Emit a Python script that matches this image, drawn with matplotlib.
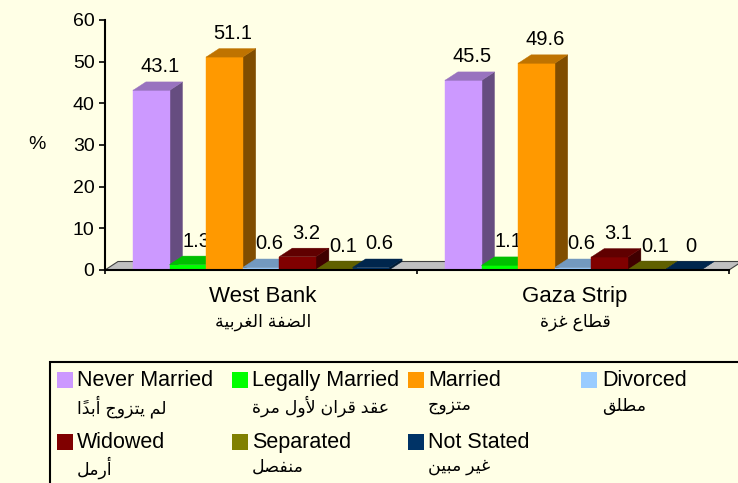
import matplotlib
matplotlib.use("Agg")
import matplotlib.pyplot as plt
from matplotlib.patches import Polygon, Rectangle

plt.rcParams['font.family'] = ['Liberation Sans', 'DejaVu Sans']

# data
regions_en = ["West Bank", "Gaza Strip"]
regions_ar = ["الضفة الغربية", "قطاع غزة"]
status_en = ["Never Married", "Legally Married", "Married", "Divorced",
             "Widowed", "Separated", "Not Stated"]
status_ar = ["لم يتزوج أبداً", "عقد قران لأول مرة", "متزوج", "مطلق",
             "أرمل", "منفصل", "غير مبين"]
west_bank = [43.1, 1.3, 51.1, 0.6, 3.2, 0.1, 0.6]
gaza = [45.5, 1.1, 49.6, 0.6, 3.1, 0.1, 0]
colors = ["#CC99FF", "#00FF00", "#FF9900", "#99CCFF", "#800000", "#808000", "#003366"]
yticks = [0, 10, 20, 30, 40, 50, 60]

# --- small arabic shaper: matplotlib does no contextual shaping ---
# iso, fin, ini, med
FORMS = {
    'ا': ('\uFE8D', '\uFE8E', None, None),
    'أ': ('\uFE83', '\uFE84', None, None),
    'ب': ('\uFE8F', '\uFE90', '\uFE91', '\uFE92'),
    'ة': ('\uFE93', '\uFE94', None, None),
    'ت': ('\uFE95', '\uFE96', '\uFE97', '\uFE98'),
    'ج': ('\uFE9D', '\uFE9E', '\uFE9F', '\uFEA0'),
    'د': ('\uFEA9', '\uFEAA', None, None),
    'ر': ('\uFEAD', '\uFEAE', None, None),
    'ز': ('\uFEAF', '\uFEB0', None, None),
    'ص': ('\uFEB9', '\uFEBA', '\uFEBB', '\uFEBC'),
    'ض': ('\uFEBD', '\uFEBE', '\uFEBF', '\uFEC0'),
    'ط': ('\uFEC1', '\uFEC2', '\uFEC3', '\uFEC4'),
    'ع': ('\uFEC9', '\uFECA', '\uFECB', '\uFECC'),
    'غ': ('\uFECD', '\uFECE', '\uFECF', '\uFED0'),
    'ف': ('\uFED1', '\uFED2', '\uFED3', '\uFED4'),
    'ق': ('\uFED5', '\uFED6', '\uFED7', '\uFED8'),
    'ل': ('\uFEDD', '\uFEDE', '\uFEDF', '\uFEE0'),
    'م': ('\uFEE1', '\uFEE2', '\uFEE3', '\uFEE4'),
    'ن': ('\uFEE5', '\uFEE6', '\uFEE7', '\uFEE8'),
    'و': ('\uFEED', '\uFEEE', None, None),
    'ي': ('\uFEF1', '\uFEF2', '\uFEF3', '\uFEF4'),
    'لأ': ('\uFEF7', '\uFEF8', None, None),
    'لا': ('\uFEFB', '\uFEFC', None, None),
}
MARKS = '\u064B\u064E\u064F\u0650\u0651\u0652'


def shape(s):
    units = []  # [letter key, marks]
    i = 0
    while i < len(s):
        c = s[i]
        if c in MARKS and units:
            units[-1][1] += c
        elif c == 'ل' and i + 1 < len(s) and s[i + 1] in 'اأ':
            units.append([c + s[i + 1], ''])
            i += 1
        else:
            units.append([c, ''])
        i += 1
    out = []
    for k, (u, m) in enumerate(units):
        if u not in FORMS:
            out.append(u + m)
            continue
        prev = units[k - 1][0] if k > 0 else None
        nxt = units[k + 1][0] if k + 1 < len(units) else None
        jp = prev in FORMS and FORMS[prev][2] is not None
        jn = FORMS[u][2] is not None and nxt in FORMS
        f = FORMS[u]
        g = f[3] if (jp and jn) else f[1] if jp else f[2] if jn else f[0]
        out.append(g + m)
    return ''.join(reversed(out))


bg = "#FFFFE6"
fig = plt.figure(figsize=(7.38, 4.83), dpi=100, facecolor=bg)
ax = fig.add_axes([105 / 738, 1 - 270 / 483, 624 / 738, 250 / 483])
ax.patch.set_visible(False)
ax.set_xlim(0, 2)
ax.set_ylim(0, 60)

px = 2 / 624.0     # one pixel in x data units
py = 60 / 250.0    # one pixel in y data units
dx, dy = 13 * px, 8.5 * py
w = 36.6 * px


def shade(c, f):
    r, g, b = matplotlib.colors.to_rgb(c)
    return (r * f, g * f, b * f)


# floor
ax.add_patch(Polygon([(0, 0), (2, 0), (2 + dx, dy), (dx, dy)], closed=True,
                     facecolor="#C0C0C0", edgecolor="#404040", lw=0.8,
                     clip_on=False, zorder=1))

z = 3
for g, vals in enumerate([west_bank, gaza]):
    for j, v in enumerate(vals):
        x0 = g + 0.5 - 3.5 * w + j * w
        c = colors[j]
        front = [(x0, 0), (x0 + w, 0), (x0 + w, v), (x0, v)]
        side = [(x0 + w, 0), (x0 + w + dx, dy), (x0 + w + dx, v + dy), (x0 + w, v)]
        top = [(x0, v), (x0 + w, v), (x0 + w + dx, v + dy), (x0 + dx, v + dy)]
        for pts, col in [(side, shade(c, 0.5)), (front, c), (top, shade(c, 0.75))]:
            ax.add_patch(Polygon(pts, closed=True, facecolor=col, edgecolor=col,
                                 lw=0.3, clip_on=False, zorder=z))
        z += 0.1
        ax.text(x0 + w / 2 + dx / 2 + 2 * px, v + dy + 9.5 * py, f"{v:g}",
                ha="center", va="baseline", fontsize=14.5, zorder=2, clip_on=False)

# axes
for s in ["top", "right"]:
    ax.spines[s].set_visible(False)
ax.spines["left"].set_linewidth(1.5)
ax.spines["bottom"].set_linewidth(1.5)
ax.spines["left"].set_zorder(2.5)
ax.spines["bottom"].set_zorder(20)
ax.set_yticks(yticks)
ax.set_yticklabels([str(t) for t in yticks])
ax.tick_params(axis="y", direction="out", length=4.5, width=1.2, labelsize=14, pad=3)
ax.set_xticks([0, 1, 2])
ax.set_xticklabels([])
ax.tick_params(axis="x", direction="out", length=3, width=1.2)

fig.text(36.5 / 738, 1 - 145 / 483, "%", fontsize=14, ha="center", va="center")

for g in range(2):
    ax.text(g + 0.5 + 2 * px, -32 * py, regions_en[g], ha="center", va="baseline",
            fontsize=16, clip_on=False)
    ax.text(g + 0.5 + 2 * px, -52 * py, shape(regions_ar[g]), ha="center", va="center",
            fontsize=12.5, clip_on=False)

# legend box (runs off the right and bottom edges)
fig.add_artist(Rectangle((50 / 738, -0.1), 1.0, 0.1 + (483 - 362) / 483,
                         transform=fig.transFigure, fill=False, lw=1.5,
                         edgecolor="black"))
col_marker = [57, 232, 408, 581]
col_text = [77, 252, 428, 602]
row_marker = [372, 434]
row_base = [386, 448]
row_ar = [406.5, 467.5]
for k in range(len(status_en)):
    r, cidx = divmod(k, 4)
    fig.add_artist(Rectangle((col_marker[cidx] / 738, 1 - (row_marker[r] + 16) / 483),
                             16 / 738, 16 / 483, transform=fig.transFigure,
                             facecolor=colors[k], edgecolor="none"))
    fig.text(col_text[cidx] / 738, 1 - row_base[r] / 483, status_en[k],
             fontsize=15.5, ha="left", va="baseline")
    fig.text(col_text[cidx] / 738, 1 - row_ar[r] / 483, shape(status_ar[k]),
             fontsize=12.5, ha="left", va="center")

fig.savefig("out.png", dpi=100, facecolor=bg)
